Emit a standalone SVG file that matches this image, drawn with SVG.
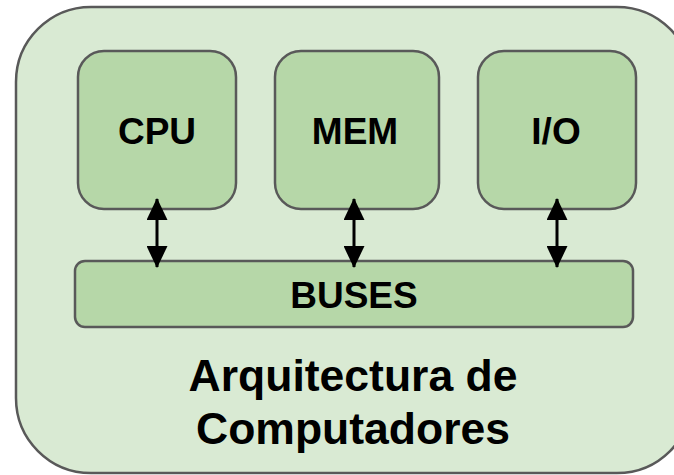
<svg xmlns="http://www.w3.org/2000/svg" width="674" height="475" viewBox="0 0 674 475">
  <style>
    .frame { fill: #d9ead3; stroke: #595959; stroke-width: 2.5; }
    .unit { fill: #b6d7a8; stroke: #595959; stroke-width: 2.5; }
    .label { font-family: "Liberation Sans", Arial, sans-serif; font-weight: bold; font-size: 37px; fill: #000; text-anchor: middle; }
    .title { font-family: "Liberation Sans", Arial, sans-serif; font-weight: bold; font-size: 44.5px; fill: #000; text-anchor: middle; }
    .link { stroke: #000; stroke-width: 3; fill: none; marker-start: url(#head); marker-end: url(#head); }
  </style>
  <defs>
    <marker id="head" viewBox="0 0 22 21" refX="21" refY="10.5" markerWidth="22" markerHeight="21" markerUnits="userSpaceOnUse" orient="auto-start-reverse">
      <path d="M0,0 L22,10.5 L0,21 Z" fill="#000"/>
    </marker>
  </defs>

  <g id="architecture">
    <rect class="frame" x="16" y="7" width="676" height="466" rx="75" ry="75"/>
    <text class="title" x="353" y="391">Arquitectura de</text>
    <text class="title" x="353" y="444">Computadores</text>
  </g>

  <g id="cpu">
    <rect class="unit" x="78" y="51" width="158" height="158" rx="26" ry="26"/>
    <text class="label" x="157" y="144">CPU</text>
  </g>

  <g id="mem">
    <rect class="unit" x="275" y="51" width="164" height="158" rx="26" ry="26"/>
    <text class="label" x="355" y="144">MEM</text>
  </g>

  <g id="io">
    <rect class="unit" x="478" y="51" width="158" height="158" rx="26" ry="26"/>
    <text class="label" x="556" y="144">I/O</text>
  </g>

  <g id="buses">
    <rect class="unit" x="75" y="261" width="558" height="66" rx="10" ry="10"/>
    <text class="label" x="354" y="308">BUSES</text>
  </g>

  <g id="connectors">
    <line class="link" x1="157" y1="199" x2="157" y2="267"/>
    <line class="link" x1="354" y1="199" x2="354" y2="267"/>
    <line class="link" x1="557" y1="199" x2="557" y2="267"/>
  </g>
</svg>
